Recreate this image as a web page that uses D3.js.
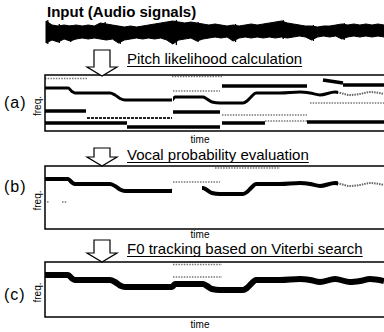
<!DOCTYPE html>
<html>
<head>
<meta charset="utf-8">
<script src="https://cdn.jsdelivr.net/npm/d3@7"></script>
<style>
  body { margin: 0; background: #fff; }
  svg { display: block; font-family: Arial, "Liberation Sans", sans-serif; }
</style>
</head>
<body>
<div id="chart"></div>
<script>
// audio envelope (px-ish amplitude above / below the centre line)
const waveUp = [10,6,5,6,5,6,5,6,5,8,7,6,5,4,5,4,5,6,7,8,9,10,9,8,9,8,7,6,7,6,5,6,5,6,7,6,7,8,9,10,8,7,6,5,5,4,5,5,6,7,6,7,6,7,6,7,6];
const waveDown = [12,9,11,8,10,8,7,8,7,8,9,8,12,9,8,7,8,7,8,7,9,13,9,8,7,10,8,7,6,7,6,10,7,6,7,6,7,6,7,6,7,6,5,6,9,6,5,6,5,8,6,5,6,5,6,5,6];
// single spikes: [sample position, up, down]
const waveSpikes = [[0.3, 11, 13], [2.2, 7, 12], [4.1, 6, 11], [9.8, 9, 9], [12.3, 5, 13], [20.8, 10, 12],
  [21.6, 11, 14], [25.2, 9, 11], [31.4, 7, 11], [39.3, 11, 8], [44.3, 6, 10], [49.4, 8, 9]];

// F0 contour: time (frames) and freq (0 = bottom, 60 = top of panel)
const f0Time = [0, 23, 27, 30, 65, 70, 75, 80, 127, 130, 158, 162, 167, 175, 198, 202, 206, 211, 235, 255, 265, 275, 290, 305, 315, 325, 339];
const f0Freq = [47, 47, 43.5, 42, 42, 40, 36.5, 35, 35, 38, 38, 36, 33, 32, 32, 34, 38, 42, 42, 43, 42, 40, 43, 40, 41, 43, 41];

// pitch candidates in (a): [t start, t end, freq start, freq end]
const aBars = [[0, 41, 24, 24], [0, 82, 12, 12], [82, 175, 8, 8], [128, 175, 23, 23],
  [177, 262, 49, 49], [278, 298, 55, 52], [298, 339, 50, 50], [177, 220, 12, 12], [262, 339, 13, 13]];
const aDashed = [[42, 127, 17, 17]];
const aFaint = [[0, 42, 56.5, 56.5], [127, 177, 58.5, 58.5], [128, 175, 44, 44], [265, 339, 32, 32],
  [177, 262, 20, 20], [220, 262, 14, 14]];
const bFaint = [[128, 175, 44, 44], [170, 235, 58, 58], [2, 4, 24, 24], [17, 22, 24, 24]];
const cFaint = [[128, 177, 45, 45], [128, 177, 57.5, 57.5]];

// which parts of the contour each panel keeps
const aKeep = [[0, 127], [128, 293]];
const bKeep = [[0, 127], [157, 293]];
const cKeep = [[0, 340]];
const tailKeep = [[293, 340]];

const steps = ["Pitch likelihood calculation", "Vocal probability evaluation", "F0 tracking based on Viterbi search"];

const width = 384;
const height = 332;

const svg = d3.select("#chart")
  .append("svg")
  .attr("width", width)
  .attr("height", height);

const defs = svg.append("defs");

const x = d3.scaleLinear().domain([0, 340]).range([45, 385]);

/* title + waveform */
svg.append("text")
  .attr("x", 47).attr("y", 17)
  .attr("font-size", 15).attr("font-weight", "bold")
  .text("Input (Audio signals)");

const waveX = d3.scaleLinear().domain([0, waveUp.length - 1]).range([46, 384]);
const ampY = d3.scaleLinear().domain([-14, 14]).range([45, 17]);

svg.append("path")
  .datum(d3.range(waveUp.length))
  .attr("d", d3.area()
    .x(i => waveX(i))
    .y0(i => ampY(-waveDown[i]))
    .y1(i => ampY(waveUp[i])))
  .attr("fill", "#000")
  .attr("stroke", "#000")
  .attr("stroke-width", 1);

svg.selectAll(".spike")
  .data(waveSpikes)
  .enter().append("line")
  .attr("x1", d => waveX(d[0])).attr("x2", d => waveX(d[0]))
  .attr("y1", d => ampY(d[1])).attr("y2", d => ampY(-d[2]))
  .attr("stroke", "#000")
  .attr("stroke-width", 1.3);

/* panels */
const panels = [
  {label: "(a)", top: 75, bottom: 131, labelY: 108, timeY: 143, keep: aKeep, lw: 3, faint: aFaint, bars: aBars, dashed: aDashed, tail: true},
  {label: "(b)", top: 166, bottom: 229, labelY: 192, timeY: 238, keep: bKeep, lw: 4, faint: bFaint, bars: [], dashed: [], tail: true},
  {label: "(c)", top: 262, bottom: 317, labelY: 300, timeY: 328, keep: cKeep, lw: 6, faint: cFaint, bars: [], dashed: [], tail: false}
];
const arrows = [[50, 76], [148, 166], [240, 262]];
const stepY = [64, 160, 254];

const contour = f0Time.map((t, i) => [t, f0Freq[i]]);

panels.forEach(function(p, k) {
  const y = d3.scaleLinear().domain([0, 60]).range([p.top + 60, p.top]);
  const g = svg.append("g");

  const seg = d3.line().x(d => x(d[0])).y(d => y(d[1]));
  const segData = d => [[d[0], d[2]], [d[1], d[3]]];

  g.selectAll(".faint")
    .data(p.faint)
    .enter().append("path")
    .attr("d", d => seg(segData(d)))
    .attr("stroke", "#777")
    .attr("stroke-width", 1.6)
    .attr("stroke-dasharray", "1.5,1.2")
    .attr("fill", "none");

  g.selectAll(".dashed")
    .data(p.dashed)
    .enter().append("path")
    .attr("d", d => seg(segData(d)))
    .attr("stroke", "#222")
    .attr("stroke-width", 2)
    .attr("stroke-dasharray", "3,1")
    .attr("fill", "none");

  g.selectAll(".bar")
    .data(p.bars)
    .enter().append("path")
    .attr("d", d => seg(segData(d)))
    .attr("stroke", "#000")
    .attr("stroke-width", 3.5)
    .attr("fill", "none");

  const curve = d3.line().x(d => x(d[0])).y(d => y(d[1])).curve(d3.curveMonotoneX);

  p.keep.forEach(function(r, j) {
    const id = "clip" + k + "_" + j;
    defs.append("clipPath").attr("id", id)
      .append("rect")
      .attr("x", x(r[0])).attr("width", x(r[1]) - x(r[0]))
      .attr("y", p.top).attr("height", p.bottom - p.top);
    g.append("path")
      .datum(contour)
      .attr("d", curve)
      .attr("clip-path", "url(#" + id + ")")
      .attr("stroke", "#000")
      .attr("stroke-width", p.lw)
      .attr("fill", "none");
  });

  if (p.tail) {
    tailKeep.forEach(function(r, j) {
      const id = "tail" + k + "_" + j;
      defs.append("clipPath").attr("id", id)
        .append("rect")
        .attr("x", x(r[0])).attr("width", x(r[1]) - x(r[0]))
        .attr("y", p.top).attr("height", p.bottom - p.top);
      g.append("path")
        .datum(contour)
        .attr("d", curve)
        .attr("clip-path", "url(#" + id + ")")
        .attr("stroke", "#666")
        .attr("stroke-width", 2)
        .attr("stroke-dasharray", "1.5,1")
        .attr("fill", "none");
    });
  }

  // frame
  g.append("path")
    .attr("d", `M386,${p.top}H45V${p.bottom}H386`)
    .attr("stroke", "#000")
    .attr("stroke-width", 1.5)
    .attr("fill", "none");

  g.append("text")
    .attr("x", 4).attr("y", p.labelY)
    .attr("font-size", 16)
    .attr("letter-spacing", 1)
    .text(p.label);

  g.append("text")
    .attr("transform", `translate(41,${(p.top + p.bottom) / 2 + 3}) rotate(-90)`)
    .attr("text-anchor", "middle")
    .attr("font-size", 10)
    .text("freq.");

  g.append("text")
    .attr("x", 200).attr("y", p.timeY)
    .attr("text-anchor", "middle")
    .attr("font-size", 10)
    .text("time");

  /* arrow + step label */
  const a = arrows[k];
  const cx = 102, base = a[1] - 9;
  svg.append("path")
    .attr("d", `M${cx - 8},${a[0]}H${cx + 8}V${base}H${cx + 15}L${cx},${a[1]}L${cx - 15},${base}H${cx - 8}Z`)
    .attr("fill", "#fff")
    .attr("stroke", "#000")
    .attr("stroke-width", 1.2);

  const t = svg.append("text")
    .attr("x", 127).attr("y", stepY[k])
    .attr("font-size", 15)
    .text(steps[k]);
  const w = t.node().getComputedTextLength();
  svg.append("line")
    .attr("x1", 127).attr("x2", 127 + w)
    .attr("y1", stepY[k] + 2.5).attr("y2", stepY[k] + 2.5)
    .attr("stroke", "#000")
    .attr("stroke-width", 1);
});
</script>
</body>
</html>
